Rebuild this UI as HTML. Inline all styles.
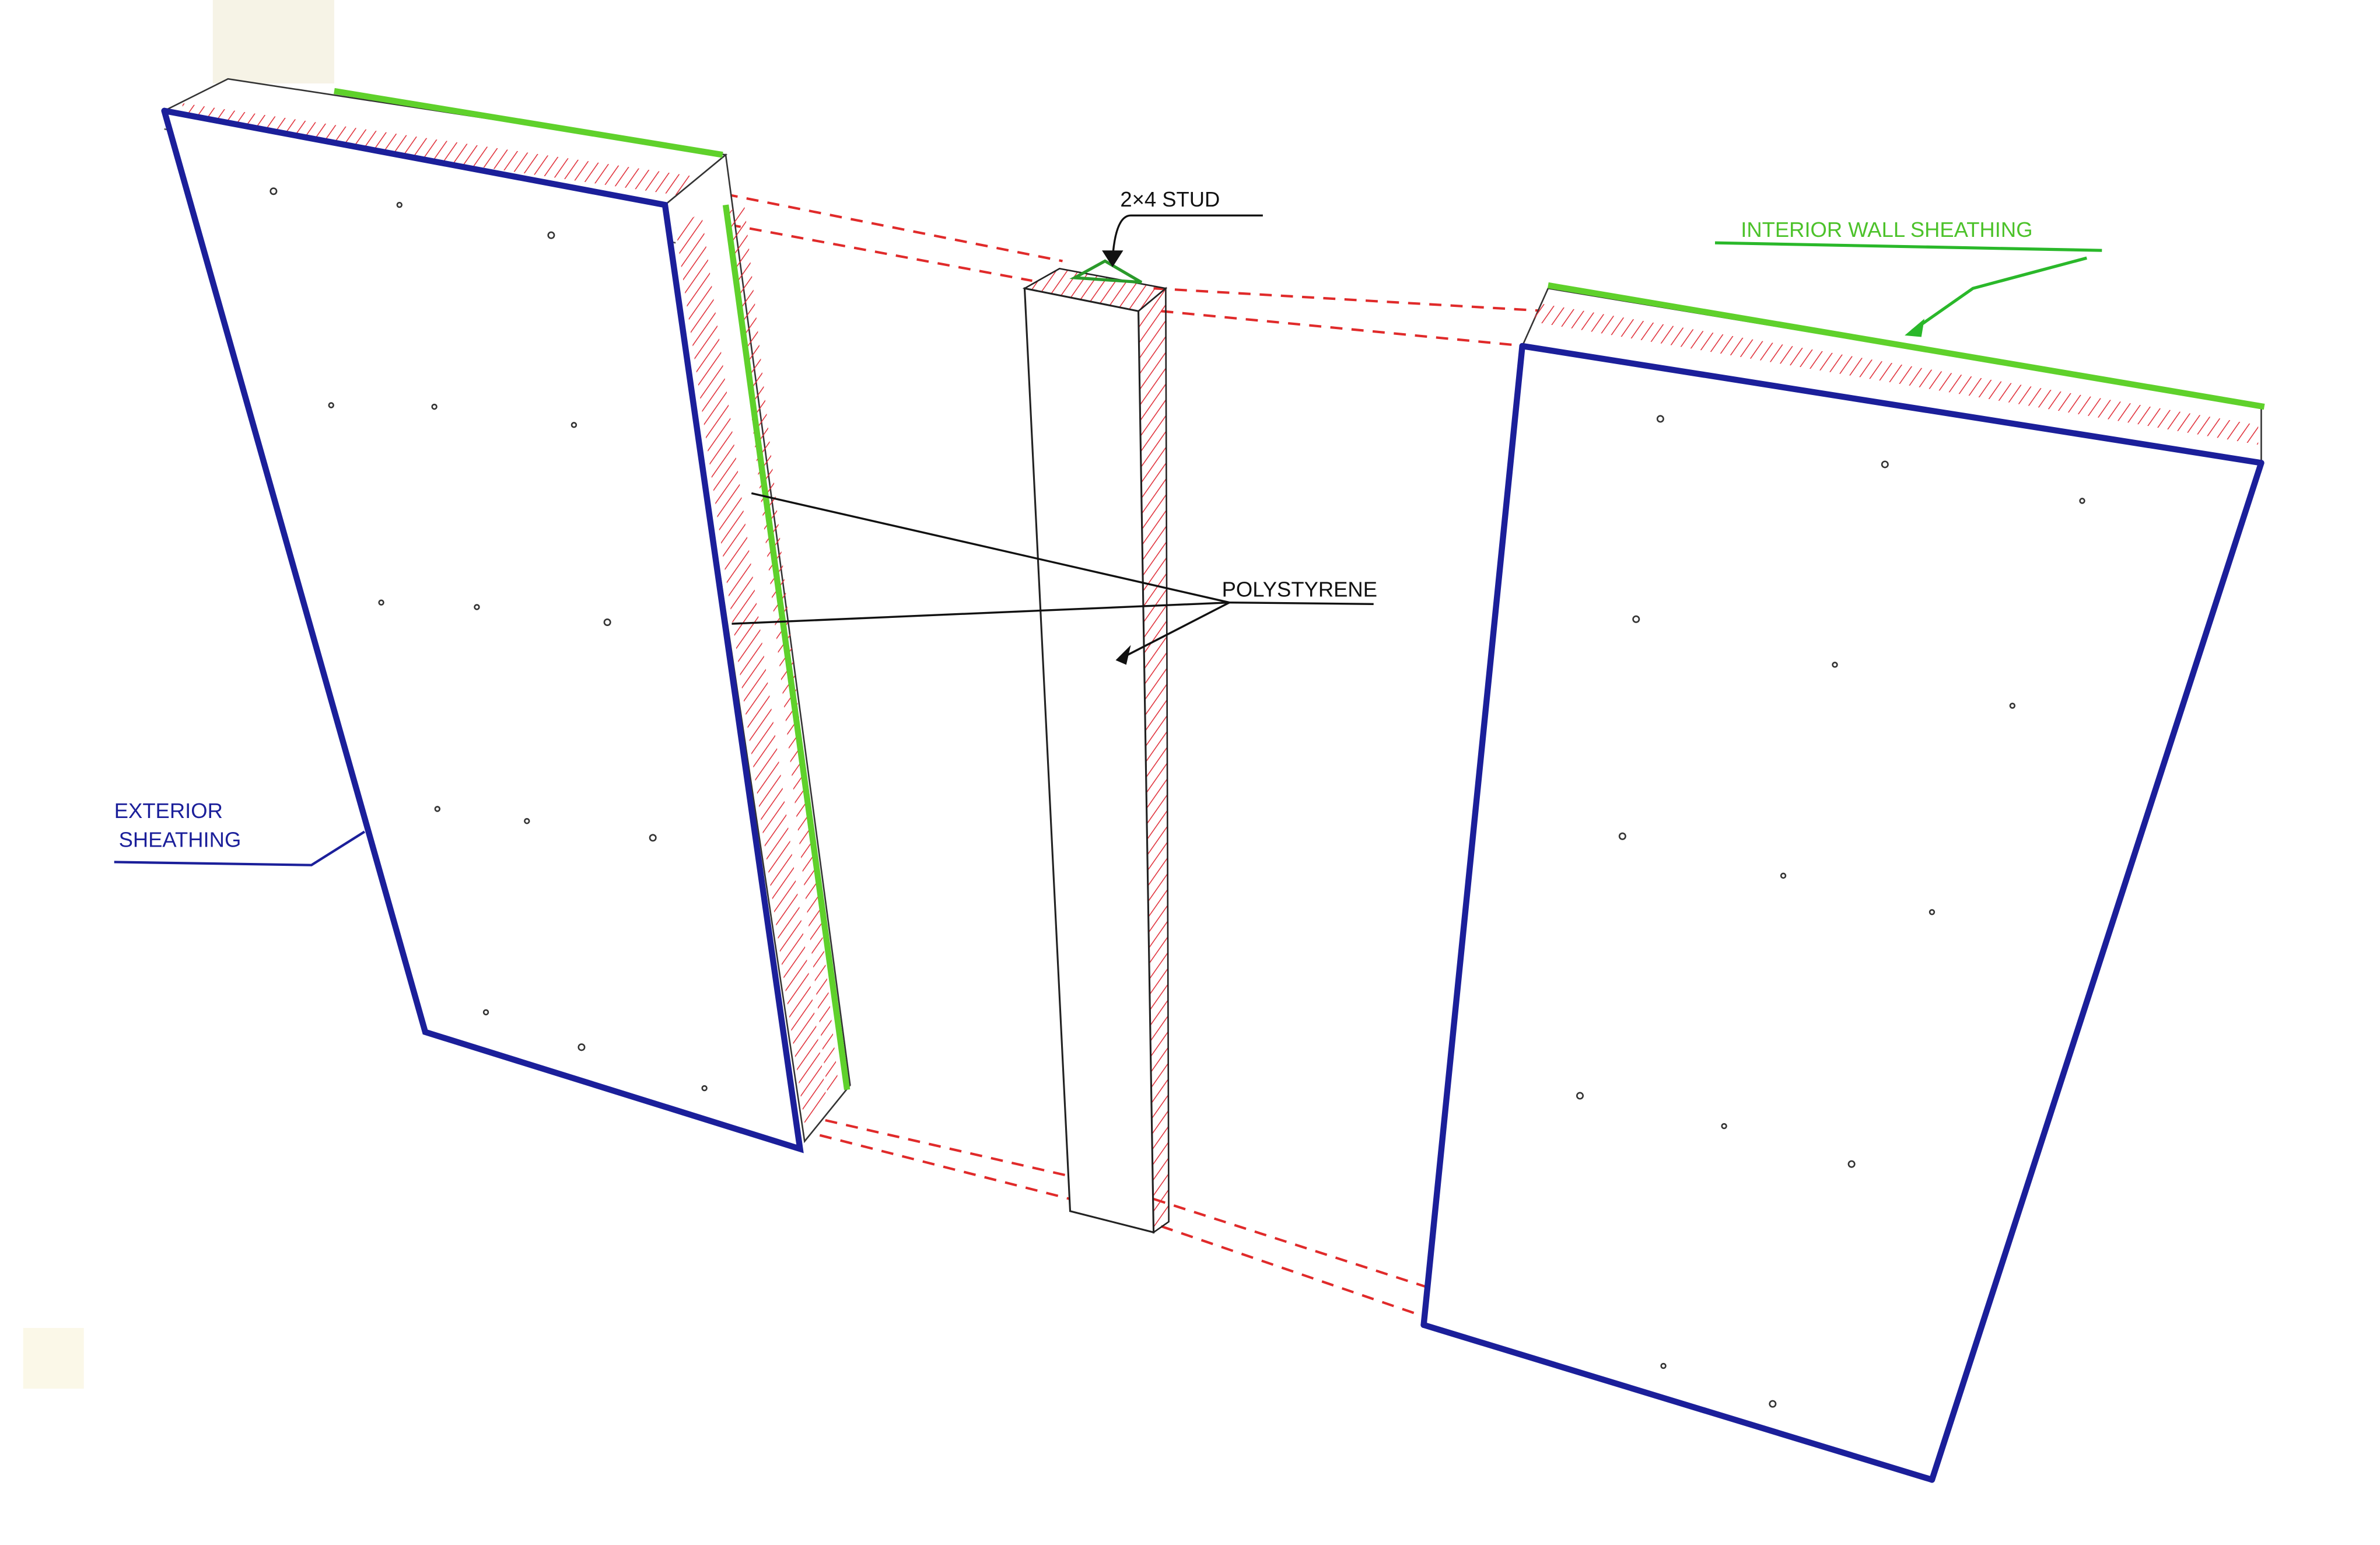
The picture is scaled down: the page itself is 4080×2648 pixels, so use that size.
<!DOCTYPE html>
<html><head><meta charset="utf-8"><style>
html,body{margin:0;padding:0;background:#fff;width:4080px;height:2648px;overflow:hidden}
svg{display:block}
text{font-family:"Liberation Sans",sans-serif;font-size:14px}
</style></head><body>
<svg width="4080" height="2648" viewBox="0 0 1568 1018" xmlns="http://www.w3.org/2000/svg">
<defs>
<pattern id="h" width="6" height="6" patternUnits="userSpaceOnUse" patternTransform="rotate(35)">
<line x1="0" y1="0" x2="0" y2="6" stroke="#e0303a" stroke-width="1.2"/></pattern>
</defs>
<rect width="1568" height="1018" fill="#fff"/>
<rect x="140" y="0" width="80" height="55" fill="#f6f3e6"/>
<rect x="15" y="875" width="40" height="40" fill="#fbf8e8"/>

<!-- red dashed connectors -->
<g stroke="#e02a2a" stroke-width="1.6" stroke-dasharray="8,6" fill="none">
<line x1="478" y1="128" x2="700" y2="172"/>
<line x1="480" y1="148" x2="680" y2="185"/>
<line x1="760" y1="190" x2="1020" y2="205"/>
<line x1="765" y1="205" x2="1005" y2="228"/>
<line x1="530" y1="735" x2="705" y2="775"/>
<line x1="540" y1="748" x2="705" y2="790"/>
<line x1="760" y1="790" x2="940" y2="848"/>
<line x1="765" y1="808" x2="940" y2="868"/>
</g>

<!-- left panel -->
<polygon points="108,73 150,52 478,102 438,135" fill="#fff" stroke="#333" stroke-width="1"/>
<polygon points="120,68 470,118 470,132 120,82" fill="url(#h)"/>
<polygon points="438,135 478,102 560,715 530,752" fill="#fff" stroke="#333" stroke-width="1"/>
<polygon points="445,150 462,140 545,728 530,740" fill="url(#h)"/>
<polygon points="480,140 490,132 552,712 545,720" fill="url(#h)"/>
<line x1="108" y1="85" x2="438" y2="148" stroke="#555" stroke-width="1"/>
<line x1="115" y1="98" x2="445" y2="160" stroke="#555" stroke-width="1"/>
<polygon points="108,73 438,135 527,757 280,680" fill="#fff" stroke="#222" stroke-width="1"/>
<g stroke="#1b1f9a" stroke-width="4" fill="none" stroke-linecap="round">
<polyline points="108,73 438,135 527,757 280,680 108,73"/>
</g>
<g stroke="#5fd12b" stroke-width="4" fill="none">
<line x1="220" y1="60" x2="476" y2="102"/>
<line x1="478" y1="135" x2="558" y2="718"/>
</g>

<!-- stud -->
<polygon points="675,190 698,177 768,190 750,205" fill="url(#h)" stroke="#222" stroke-width="1"/>
<polygon points="750,205 768,190 770,805 760,812" fill="url(#h)" stroke="#222" stroke-width="1"/>
<polygon points="675,190 750,205 760,812 705,798" fill="#fff" stroke="#222" stroke-width="1.2"/>
<polygon points="708,183 728,172 752,186" fill="none" stroke="#2a9a2a" stroke-width="2"/>

<!-- right panel -->
<polygon points="1020,190 1490,268 1490,305 1003,228" fill="#fff" stroke="#333" stroke-width="1"/>
<polygon points="1015,200 1488,280 1488,293 1010,212" fill="url(#h)"/>
<line x1="1003" y1="240" x2="1484" y2="318" stroke="#555" stroke-width="1"/>
<line x1="1003" y1="252" x2="1480" y2="332" stroke="#555" stroke-width="1"/>
<polygon points="1003,228 1490,305 1273,975 938,873" fill="#fff" stroke="#222" stroke-width="1"/>
<g stroke="#1b1f9a" stroke-width="4" fill="none" stroke-linecap="round">
<line x1="1003" y1="228" x2="938" y2="873"/>
<line x1="938" y1="873" x2="1273" y2="975"/>
<line x1="1490" y1="305" x2="1273" y2="975"/>
<line x1="1003" y1="228" x2="1490" y2="305"/>
</g>
<line x1="1020" y1="188" x2="1492" y2="268" stroke="#5fd12b" stroke-width="4"/>

<!-- dots -->
<g fill="none" stroke="#333" stroke-width="1">
<circle cx="180" cy="126" r="2"/><circle cx="263" cy="135" r="1.5"/><circle cx="363" cy="155" r="2"/>
<circle cx="218" cy="267" r="1.5"/><circle cx="286" cy="268" r="1.5"/><circle cx="378" cy="280" r="1.5"/>
<circle cx="251" cy="397" r="1.5"/><circle cx="314" cy="400" r="1.5"/><circle cx="400" cy="410" r="2"/>
<circle cx="288" cy="533" r="1.5"/><circle cx="347" cy="541" r="1.5"/><circle cx="430" cy="552" r="2"/>
<circle cx="320" cy="667" r="1.5"/><circle cx="383" cy="690" r="2"/><circle cx="464" cy="717" r="1.5"/>
<circle cx="1094" cy="276" r="2"/><circle cx="1242" cy="306" r="2"/><circle cx="1372" cy="330" r="1.5"/>
<circle cx="1078" cy="408" r="2"/><circle cx="1209" cy="438" r="1.5"/><circle cx="1326" cy="465" r="1.5"/>
<circle cx="1069" cy="551" r="2"/><circle cx="1175" cy="577" r="1.5"/><circle cx="1273" cy="601" r="1.5"/>
<circle cx="1041" cy="722" r="2"/><circle cx="1136" cy="742" r="1.5"/><circle cx="1220" cy="767" r="2"/>
<circle cx="1096" cy="900" r="1.5"/><circle cx="1168" cy="925" r="2"/>
</g>

<!-- leaders -->
<g stroke="#111" stroke-width="1.3" fill="none">
<line x1="810" y1="397" x2="495" y2="325"/>
<line x1="810" y1="397" x2="482" y2="411"/>
<line x1="810" y1="397" x2="740" y2="433"/>
<line x1="810" y1="397" x2="905" y2="398"/>
<path d="M832,142 L745,142 Q735,142 733,170"/>
</g>
<polygon points="726,165 740,165 733,176" fill="#111"/>
<polygon points="735,435 745,425 742,438" fill="#111"/>
<g stroke="#2ab82a" stroke-width="2" fill="none">
<line x1="1130" y1="160" x2="1385" y2="165"/>
<path d="M1375,170 L1300,190 L1260,218"/>
</g>
<polygon points="1255,221 1268,210 1266,222" fill="#2ab82a"/>
<g stroke="#1b1f9a" stroke-width="1.6" fill="none">
<path d="M75,568 L205,570 L240,548"/>
</g>

<text x="738" y="136" fill="#111">2×4  STUD</text>
<text x="1147" y="156" fill="#4cc22a" font-size="12">INTERIOR WALL SHEATHING</text>
<text x="805" y="393" fill="#111" font-size="13">POLYSTYRENE</text>
<text x="75" y="539" fill="#1b1f9a" font-size="12">EXTERIOR</text>
<text x="78" y="558" fill="#1b1f9a" font-size="12">SHEATHING</text>
</svg>
</body></html>
